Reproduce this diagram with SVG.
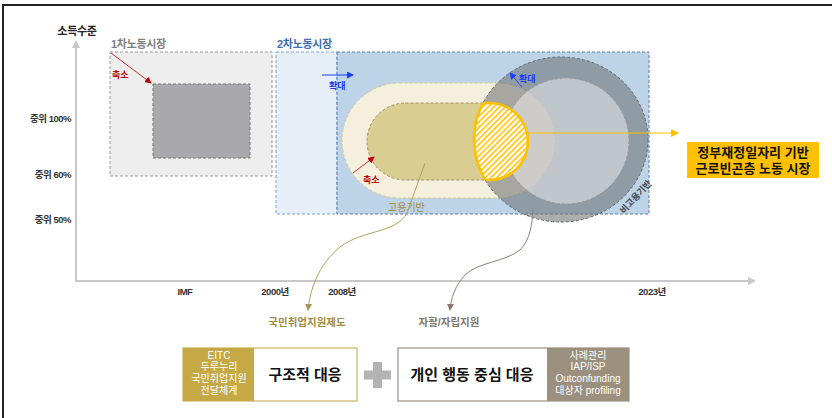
<svg xmlns="http://www.w3.org/2000/svg" width="832" height="418" viewBox="0 0 832 418">
<defs>
<style>
text{font-family:"Liberation Sans","Noto Sans CJK KR",sans-serif}
.ax{font-size:9.5px;font-weight:bold;fill:#333;letter-spacing:-0.5px}
.ttl{font-size:11px;font-weight:bold;letter-spacing:-0.3px}
.sm{font-size:9px;font-weight:bold}
.wt{font-size:10px;fill:#fff;text-anchor:middle}
.big{font-size:15px;font-weight:bold;fill:#111;text-anchor:middle}
</style>
<marker id="ag" markerWidth="8" markerHeight="8" refX="4" refY="4" orient="auto" markerUnits="userSpaceOnUse"><path d="M0,0 L8,4 L0,8 Z" fill="#c8c8c8"/></marker>
<marker id="ar" markerWidth="7" markerHeight="7" refX="6" refY="3.5" orient="auto" markerUnits="userSpaceOnUse"><path d="M0,0 L7,3.5 L0,7 Z" fill="#c00000"/></marker>
<marker id="ab" markerWidth="7" markerHeight="7" refX="6" refY="3.5" orient="auto" markerUnits="userSpaceOnUse"><path d="M0,0 L7,3.5 L0,7 Z" fill="#1a3cff"/></marker>
<marker id="ay" markerWidth="8" markerHeight="8" refX="7" refY="4" orient="auto" markerUnits="userSpaceOnUse"><path d="M0,0 L8,4 L0,8 Z" fill="#ffc000"/></marker>
<marker id="ao" markerWidth="7" markerHeight="7" refX="6" refY="3.5" orient="auto" markerUnits="userSpaceOnUse"><path d="M0,0 L7,3.5 L0,7 Z" fill="#a8954c"/></marker>
<marker id="ay2" markerWidth="7" markerHeight="7" refX="6" refY="3.5" orient="auto" markerUnits="userSpaceOnUse"><path d="M0,0 L7,3.5 L0,7 Z" fill="#857a70"/></marker>
<pattern id="hatch" width="4" height="4" patternUnits="userSpaceOnUse" patternTransform="rotate(-45)">
<rect width="4" height="4" fill="#ffffff"/>
<rect width="4" height="1.6" fill="#ffc000"/>
</pattern>
<clipPath id="cE"><ellipse cx="561" cy="139.5" rx="87" ry="82.5"/></clipPath>
<clipPath id="cS"><rect x="367" y="103" width="161" height="77" rx="38.5"/></clipPath>
</defs>

<g id="frame">
<line x1="3" y1="5" x2="832" y2="5" stroke="#222" stroke-width="2"/>
<line x1="3" y1="4" x2="3" y2="418" stroke="#222" stroke-width="2"/>
</g>

<g id="axes">
<line x1="76" y1="281" x2="76" y2="44" stroke="#c8c8c8" stroke-width="2" marker-end="url(#ag)"/>
<line x1="75" y1="281" x2="752" y2="281" stroke="#c8c8c8" stroke-width="2" marker-end="url(#ag)"/>
<text x="77" y="35" class="ttl" fill="#222" text-anchor="middle">소득수준</text>
<text x="71" y="122" class="ax" text-anchor="end">중위 100%</text>
<text x="71" y="178" class="ax" text-anchor="end">중위 60%</text>
<text x="71" y="223" class="ax" text-anchor="end">중위 50%</text>
<text x="185" y="295" class="ax" text-anchor="middle">IMF</text>
<text x="275" y="295" class="ax" text-anchor="middle">2000년</text>
<text x="342" y="295" class="ax" text-anchor="middle">2008년</text>
<text x="652" y="295" class="ax" text-anchor="middle">2023년</text>
</g>

<g id="market1">
<rect x="110" y="52" width="162" height="124" fill="#eeeeee" stroke="#999" stroke-width="1" stroke-dasharray="3,2"/>
<rect x="153" y="84" width="97" height="74" fill="#a9a8ad" stroke="#777" stroke-width="1" stroke-dasharray="3,2"/>
<text x="111" y="48" class="ttl" fill="#7f7f7f">1차노동시장</text>
<line x1="111" y1="53" x2="151" y2="83" stroke="#c00000" stroke-width="0.8" marker-end="url(#ar)"/>
<text x="112" y="78" class="sm" fill="#c00000">축소</text>
</g>

<g id="market2">
<rect x="276" y="52" width="61" height="162" fill="#e6eef7" stroke="#7fa6d0" stroke-width="1" stroke-dasharray="3,2"/>
<rect x="337" y="52" width="312" height="162" fill="#bdd3e8" stroke="#5a7da3" stroke-width="1" stroke-dasharray="3,2"/>
<text x="277" y="48" class="ttl" fill="#3f6fb0">2차노동시장</text>
<line x1="322" y1="75" x2="353" y2="75" stroke="#1a3cff" stroke-width="1" marker-end="url(#ab)"/>
<text x="329" y="89" class="sm" fill="#1a3cff">확대</text>
</g>

<g id="employment-base">
<rect x="342" y="83" width="213" height="115" rx="57.5" fill="#f5efdd" stroke="#d9ca8c" stroke-width="1" stroke-dasharray="3,2"/>
<rect x="367" y="103" width="161" height="77" rx="38.5" fill="#dacd92" stroke="#9c9070" stroke-width="1" stroke-dasharray="3,2"/>
<line x1="353" y1="173" x2="374" y2="157" stroke="#c00000" stroke-width="0.8" marker-end="url(#ar)"/>
<text x="363" y="183" class="sm" fill="#c00000">축소</text>
<text x="388" y="211" font-size="10" fill="#a08a3a">고용기반</text>
</g>

<g id="non-employment-base">
<ellipse cx="561" cy="139.5" rx="87" ry="82.5" fill="#6f7276" fill-opacity="0.58" stroke="#666" stroke-width="1" stroke-dasharray="3,2"/>
<circle cx="566" cy="141" r="63" fill="#ffffff" fill-opacity="0.43" stroke="#9a9a9a" stroke-width="1" stroke-dasharray="3,2"/>
<line x1="522" y1="87" x2="510" y2="73" stroke="#1a3cff" stroke-width="0.8" marker-end="url(#ab)"/>
<text x="519" y="82" class="sm" fill="#1a3cff">확대</text>
<text x="0" y="0" font-size="9" font-weight="bold" fill="#444" text-anchor="middle" transform="translate(638,199) rotate(-47)">비고용기반</text>
</g>

<g id="overlap">
<g clip-path="url(#cE)">
<rect x="367" y="103" width="161" height="77" rx="38.5" fill="url(#hatch)" stroke="#ffc000" stroke-width="2.6"/>
</g>
<g clip-path="url(#cS)">
<ellipse cx="561" cy="139.5" rx="87" ry="82.5" fill="none" stroke="#ffc000" stroke-width="2.6"/>
</g>
</g>

<g id="target">
<rect x="687" y="142" width="132" height="36" fill="#ffc000"/>
<text x="753" y="157" font-size="13" font-weight="bold" fill="#111" text-anchor="middle">정부재정일자리 기반</text>
<text x="753" y="173" font-size="13" font-weight="bold" fill="#111" text-anchor="middle">근로빈곤층 노동 시장</text>
</g>

<g id="labels">
<text x="307" y="326" font-size="10.5" font-weight="bold" fill="#a08c40" text-anchor="middle">국민취업지원제도</text>
<text x="449" y="326" font-size="10.5" font-weight="bold" fill="#7f776d" text-anchor="middle">자활/자립지원</text>
</g>

<g id="connectors" fill="none">
<line x1="528" y1="133" x2="678" y2="133" stroke="#ffc000" stroke-width="1" marker-end="url(#ay)"/>
<path d="M425,163 L407,213 C397,233 362,230 340,247 C318,265 310,290 308,310" stroke="#b4a15a" stroke-width="1" marker-end="url(#ao)"/>
<path d="M533,210 C532,225 530,240 520,250 C505,262 478,262 465,275 C455,286 451,298 450,310" stroke="#8c8279" stroke-width="1" marker-end="url(#ay2)"/>
</g>

<g id="box-structural">
<rect x="183" y="348" width="174" height="53" fill="#ffffff" stroke="#c9b25a" stroke-width="1.2"/>
<rect x="183" y="348" width="71" height="53" fill="#c4a944"/>
<text x="219" y="359" class="wt">EITC</text>
<text x="219" y="370" class="wt">두루누리</text>
<text x="219" y="382" class="wt">국민취업지원</text>
<text x="219" y="394" class="wt">전달체계</text>
<text x="305" y="380" class="big">구조적 대응</text>
</g>

<g id="plus">
<rect x="373" y="362" width="9" height="26" fill="#b3b3b3"/>
<rect x="364" y="370.5" width="27" height="9" fill="#b3b3b3"/>
</g>

<g id="box-individual">
<rect x="398" y="348" width="231" height="53" fill="#ffffff" stroke="#9b8f7e" stroke-width="1.2"/>
<rect x="547" y="348" width="82" height="53" fill="#9b8f7e"/>
<text x="588" y="359" class="wt">사례관리</text>
<text x="588" y="370" class="wt">IAP/ISP</text>
<text x="588" y="382" class="wt">Outconfunding</text>
<text x="588" y="394" class="wt">대상자 profiling</text>
<text x="472" y="380" class="big">개인 행동 중심 대응</text>
</g>
</svg>
